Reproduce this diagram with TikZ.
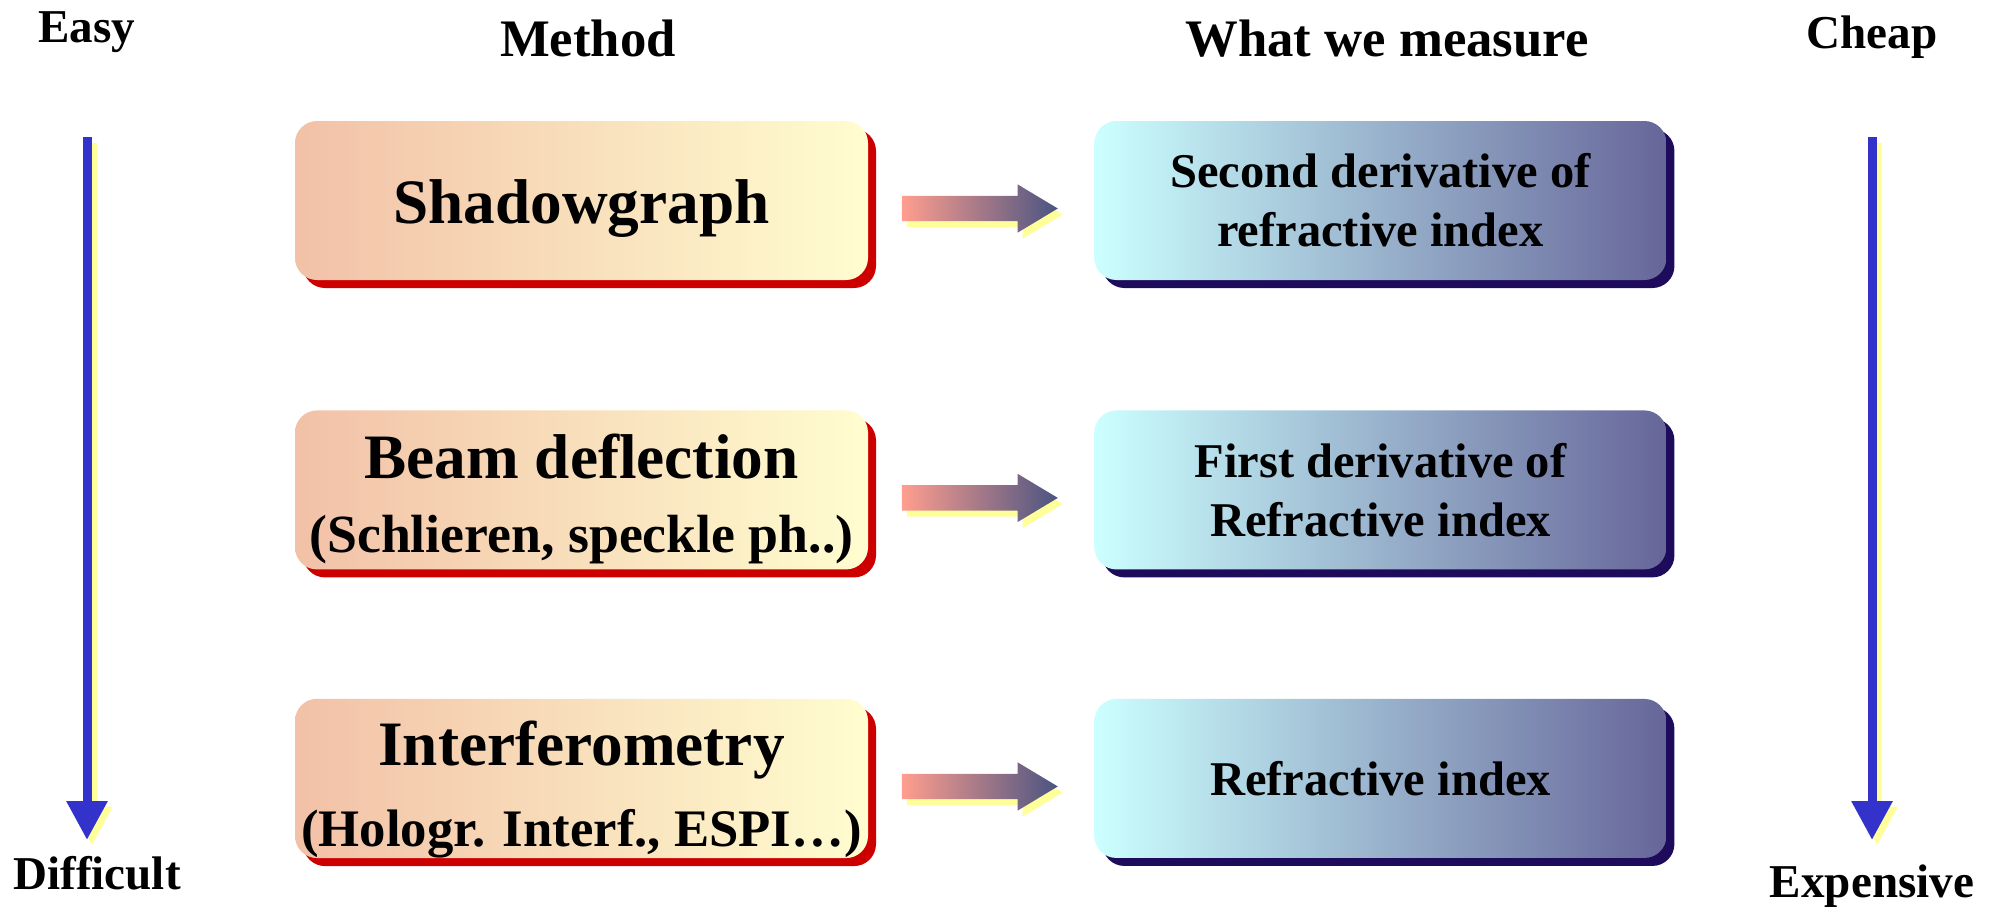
\documentclass[tikz,border=0pt]{standalone}
\usepackage{fontspec}
\setmainfont{Liberation Serif}
\usetikzlibrary{positioning,calc,shadows,shapes.arrows,arrows.meta}

\definecolor{peachL}{HTML}{F2C1A7}
\definecolor{creamR}{HTML}{FFFDD0}
\definecolor{methodshadow}{HTML}{CC0000}
\definecolor{cyanL}{HTML}{CCFFFF}
\definecolor{slateR}{HTML}{666699}
\definecolor{measureshadow}{HTML}{1E0B5C}
\definecolor{arrowL}{HTML}{FF9E8E}
\definecolor{arrowR}{HTML}{4A5482}
\definecolor{scaleblue}{HTML}{3333CC}
\definecolor{glow}{HTML}{FFFF99}

\tikzset{
  methodbox/.style={rounded corners=2.2mm, minimum width=5.73cm, minimum height=1.59cm,
    inner sep=0pt, left color=peachL, right color=creamR, align=center,
    font=\bfseries\fontsize{18}{20}\selectfont,
    drop shadow={shadow xshift=0.8mm, shadow yshift=-0.8mm, fill=methodshadow, opacity=1}},
  measurebox/.style={rounded corners=2.2mm, minimum width=5.72cm, minimum height=1.59cm,
    inner sep=0pt, left color=cyanL, right color=slateR, align=center,
    font=\bfseries\fontsize{13.8}{16.8}\selectfont,
    drop shadow={shadow xshift=0.8mm, shadow yshift=-0.8mm, fill=measureshadow, opacity=1}},
  flowarrow/.style={single arrow, single arrow head extend=0.115cm, single arrow tip angle=62,
    minimum height=1.56cm, minimum width=0.47cm, inner xsep=0pt, inner ysep=0.12cm,
    left color=arrowL, right color=arrowR,
    drop shadow={shadow xshift=0.5mm, shadow yshift=-0.6mm, fill=glow, opacity=1}},
  heading/.style={font=\bfseries\fontsize{15}{18}\selectfont, anchor=base},
  scalelabel/.style={font=\bfseries\fontsize{13.4}{16}\selectfont, anchor=base},
  scalearrow/.style={draw=scaleblue, line width=0.9mm, -{Triangle[width=3.9mm,length=3.9mm]}},
  scaleglow/.style={draw=glow, line width=0.9mm, -{Triangle[width=3.9mm,length=3.9mm]},
    transform canvas={xshift=0.5mm, yshift=-0.55mm}},
}

\begin{document}
\begin{tikzpicture}
    \useasboundingbox (0,0) rectangle (19.93,-9.06);

    % Column headings
    \node[heading] (methodhead) at (5.88,-0.56) {Method};
    \node[heading] (measurehead) at (13.87,-0.56) {What we measure};

    % Scale labels
    \node[scalelabel] (easy) at (0.87,-0.42) {Easy};
    \node[scalelabel] (difficult) at (0.97,-8.89) {Difficult};
    \node[scalelabel] (cheap) at (18.72,-0.48) {Cheap};
    \node[scalelabel] (expensive) at (18.72,-8.97) {Expensive};

    % Methods
    \node[methodbox] (m1) at (5.815,-2.005) {\rule{0pt}{17pt}Shadowgraph};
    \node[methodbox, below=1.29cm of m1] (m2) {\rule{0pt}{18pt}Beam deflection\\[1pt]
      {\fontsize{15.3}{20}\selectfont (Schlieren, speckle ph..)}};
    \node[methodbox, below=1.28cm of m2] (m3) {\rule{0pt}{19pt}Interferometry\\[3pt]
      {\fontsize{15}{20}\selectfont (Hologr. Interf., ESPI\dots)}};

    % What is measured
    \node[measurebox, right=2.25cm of m1] (q1) {Second derivative of\\refractive index};
    \node[measurebox, right=2.25cm of m2] (q2) {First derivative of\\Refractive index};
    \node[measurebox, right=2.25cm of m3] (q3) {Refractive index};

    % Arrows between columns
    \foreach \i in {1,2,3}
      \node[flowarrow] (f\i) at ($(m\i.east)!0.5!(q\i.west)+(-0.12,-0.08)$) {};

    % Easy -> difficult, cheap -> expensive
    \coordinate (easytop) at (0.87,-1.37);
    \coordinate (easybot) at (0.87,-8.40);
    \coordinate (cheaptop) at (18.72,-1.37);
    \coordinate (cheapbot) at (18.72,-8.40);
    \draw[scaleglow] (easytop) -- (easybot);
    \draw[scalearrow] (easytop) -- (easybot);
    \draw[scaleglow] (cheaptop) -- (cheapbot);
    \draw[scalearrow] (cheaptop) -- (cheapbot);
\end{tikzpicture}
\end{document}
